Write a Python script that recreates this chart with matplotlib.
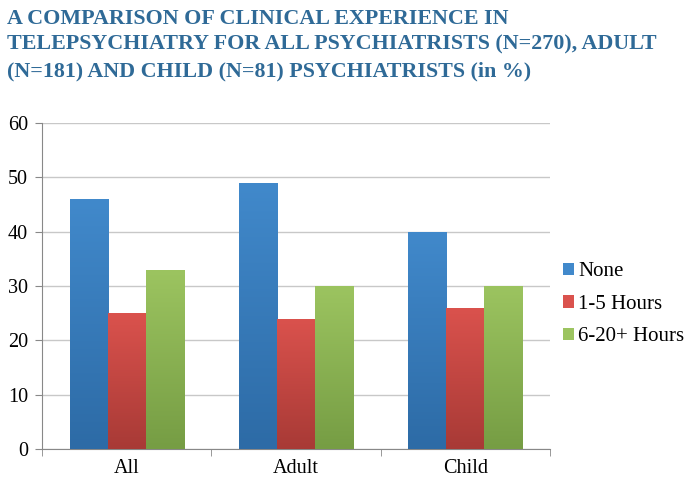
import matplotlib
matplotlib.use("Agg")
import matplotlib.pyplot as plt
import numpy as np
from matplotlib.colors import LinearSegmentedColormap
from matplotlib.patches import Patch

# Datos del gráfico
categorias = ["All", "Adult", "Child"]
series = ["None", "1-5 Hours", "6-20+ Hours"]
valores_none = [46, 49, 40]
valores_1_5 = [25, 24, 26]
valores_6_20 = [33, 30, 30]
ticks_y = [0, 10, 20, 30, 40, 50, 60]

titulo = ("A COMPARISON OF CLINICAL EXPERIENCE IN\n"
          "TELEPSYCHIATRY FOR ALL PSYCHIATRISTS (N=270), ADULT\n"
          "(N=181) AND CHILD (N=81) PSYCHIATRISTS (in %)")

# colores (arriba, abajo) para el degradado
colores = [("#4189CB", "#2D6BA6"), ("#DA524D", "#A83A36"), ("#9CC460", "#769D44")]

plt.rcParams['font.family'] = ['Liberation Serif', 'DejaVu Serif']

fig = plt.figure(figsize=(6.85, 4.8), dpi=100)
ax = fig.add_axes([0.0613, 0.0646, 0.7417, 0.6792])

x = np.arange(len(categorias))
ancho = 0.225
datos = [valores_none, valores_1_5, valores_6_20]

for i, vals in enumerate(datos):
    barras = ax.bar(x + (i - 1) * ancho, vals, ancho, color=colores[i][0],
                    edgecolor='none', zorder=2)
    cmap = LinearSegmentedColormap.from_list("g%d" % i, [colores[i][1], colores[i][0]])
    for b in barras:
        x0, y0 = b.get_x(), b.get_y()
        w, h = b.get_width(), b.get_height()
        grad = np.linspace(0, 1, 100).reshape(-1, 1)
        im = ax.imshow(grad, extent=[x0, x0 + w, y0, y0 + h], origin='lower',
                       cmap=cmap, aspect='auto', zorder=3)
        im.set_clip_path(b)

ax.set_xlim(-0.5, 2.5)
ax.set_ylim(0, 60)
ax.set_yticks(ticks_y)
ax.set_xticks(x)
ax.set_xticklabels(categorias)
ax.set_xticks([-0.5, 0.5, 1.5, 2.5], minor=True)
ax.tick_params(axis='x', which='major', length=0, labelsize=14.5, pad=7, colors='black')
ax.tick_params(axis='x', which='minor', length=5, color='#888888')
ax.tick_params(axis='y', length=5, color='#888888', labelsize=14.5, pad=5)
ax.grid(axis='y', color='#C8C8C8', linewidth=1, zorder=0)
ax.set_axisbelow(True)
for s in ['top', 'right']:
    ax.spines[s].set_visible(False)
for s in ['left', 'bottom']:
    ax.spines[s].set_color('#888888')

fig.text(0.010, 0.982, titulo, ha='left', va='top', fontsize=15.8,
         family='Liberation Serif', fontweight='bold', color='#2F6A97',
         linespacing=1.42)

handles = [Patch(facecolor=c[0], edgecolor='none') for c in colores]
fig.legend(handles, series, loc='center left', bbox_to_anchor=(0.80, 0.366),
           frameon=False, fontsize=15, handlelength=0.55, handleheight=0.55,
           handletextpad=0.2, labelspacing=0.65, borderaxespad=0.3)

fig.savefig("out.png", dpi=100)
